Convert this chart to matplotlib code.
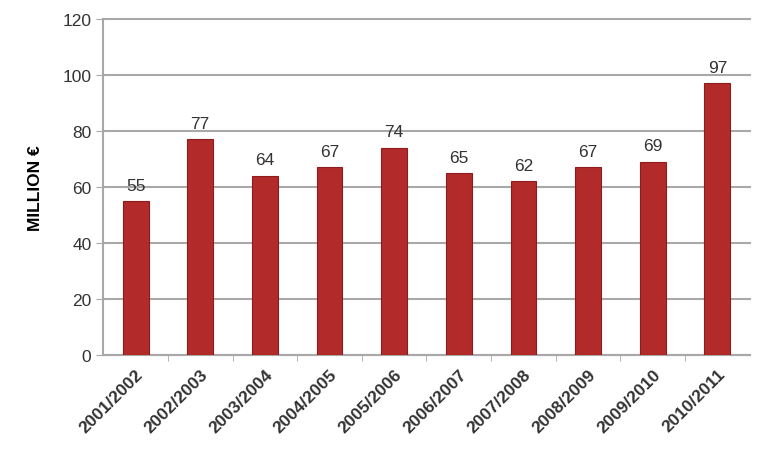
import matplotlib.pyplot as plt
import numpy as np

plt.rcParams['font.family'] = ['Liberation Sans', 'DejaVu Sans']

seasons = ['2001/2002', '2002/2003', '2003/2004', '2004/2005', '2005/2006',
           '2006/2007', '2007/2008', '2008/2009', '2009/2010', '2010/2011']
values = [55, 77, 64, 67, 74, 65, 62, 67, 69, 97]

fig = plt.figure(figsize=(7.65, 4.56), dpi=100)
ax = fig.add_axes([0.135, 0.219, 0.845, 0.737])

x = np.arange(len(seasons))
ax.bar(x, values, width=0.4, color='#b22a2a', edgecolor='#8e1c1c', linewidth=0.8, zorder=3)
for xi, v in zip(x, values):
    ax.text(xi, v + 3, str(v), ha='center', va='bottom', fontsize=12.5, color='#333333')

ax.set_xlim(-0.5, len(seasons) - 0.5)
ax.set_ylim(0, 120)
ax.set_yticks(range(0, 121, 20))
ax.yaxis.grid(True, color='#a8a8a8', linewidth=1.5, zorder=0)
for gl in ax.get_ygridlines():
    gl.set_clip_on(False)
ax.tick_params(axis='y', length=5, color='#a8a8a8', labelsize=12.5, labelcolor='#333333')

ax.set_xticks(x)
ax.set_xticklabels(seasons, rotation=45, ha='right', rotation_mode='anchor',
                   fontsize=12.5, fontweight='bold', color='#333333')
ax.tick_params(axis='x', length=0, pad=8)
ax.set_xticks(np.arange(0.5, len(seasons) - 0.5, 1), minor=True)
ax.tick_params(axis='x', which='minor', length=4, color='#a8a8a8')

for s in ['top', 'right']:
    ax.spines[s].set_visible(False)
ax.spines['left'].set_color('#a8a8a8')
ax.spines['left'].set_linewidth(1.5)
ax.spines['bottom'].set_color('#a8a8a8')
ax.spines['bottom'].set_linewidth(1.5)

ax.set_ylabel('MILLION €', fontsize=12.5, fontweight='bold', labelpad=14)

fig.savefig('out.png', dpi=100)
